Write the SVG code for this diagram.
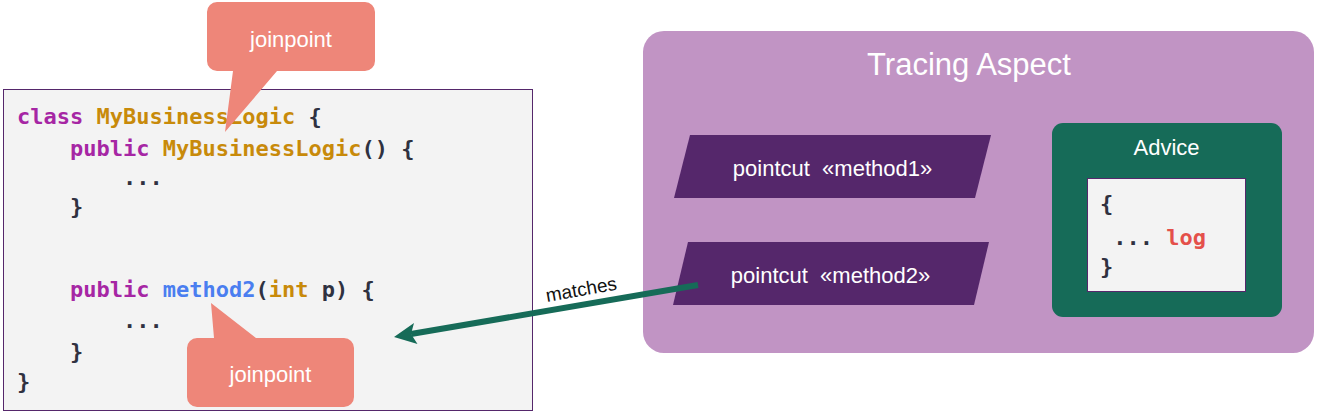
<svg xmlns="http://www.w3.org/2000/svg" width="1317" height="414" viewBox="0 0 1317 414">
  <style>
    .code { font-family: "DejaVu Sans Mono", "Liberation Mono", monospace; font-size: 22px; font-weight: bold; fill: #2f3140; white-space: pre; }
    .kw { fill: #a626a4; }
    .cls { fill: #c88a0a; }
    .fn { fill: #4a7ef0; }
    .red { fill: #e4504a; }
    .lbl { font-family: "Liberation Sans", Arial, sans-serif; fill: #ffffff; }
    .callout { fill: #ee8679; }
    .pc { fill: #55276b; }
  </style>
  <defs/>

  <g id="code-box">
    <rect x="3.5" y="89.5" width="529" height="321" fill="#f3f3f3" stroke="#55276b" stroke-width="1"/>
    <text class="code" x="17" y="124" xml:space="preserve"><tspan class="kw">class</tspan> <tspan class="cls">MyBusinessLogic</tspan> {</text>
    <text class="code" x="70" y="156" xml:space="preserve"><tspan class="kw">public</tspan> <tspan class="cls">MyBusinessLogic</tspan>() {</text>
    <text class="code" x="123" y="185" xml:space="preserve">...</text>
    <text class="code" x="70" y="214" xml:space="preserve">}</text>
    <text class="code" x="70" y="297" xml:space="preserve"><tspan class="kw">public</tspan> <tspan class="fn">method2</tspan>(<tspan class="cls">int</tspan> p) {</text>
    <text class="code" x="123" y="328" xml:space="preserve">...</text>
    <text class="code" x="70" y="359" xml:space="preserve">}</text>
    <text class="code" x="17" y="389" xml:space="preserve">}</text>
  </g>

  <g id="callout-top">
    <path class="callout" d="M217,2 H365 A10,10 0 0 1 375,12 V61 A10,10 0 0 1 365,71 H277 L225,132 L233,71 H217 A10,10 0 0 1 207,61 V12 A10,10 0 0 1 217,2 Z"/>
    <text class="lbl" x="291" y="47" font-size="22" text-anchor="middle">joinpoint</text>
  </g>

  <g id="callout-bottom">
    <path class="callout" d="M197,338 H214 L211,303 L256,338 H344 A10,10 0 0 1 354,348 V397 A10,10 0 0 1 344,407 H197 A10,10 0 0 1 187,397 V348 A10,10 0 0 1 197,338 Z"/>
    <text class="lbl" x="270.5" y="382" font-size="22" text-anchor="middle">joinpoint</text>
  </g>

  <g id="tracing-aspect">
    <rect x="643" y="31" width="671" height="322" rx="21" ry="21" fill="#c194c4"/>
    <text class="lbl" x="969" y="75" font-size="31" text-anchor="middle">Tracing Aspect</text>
  </g>

  <g id="pointcut-method1">
    <polygon class="pc" points="690,135 991,135 975,198 674,198"/>
    <text class="lbl" x="832.5" y="176" font-size="22" text-anchor="middle" xml:space="preserve">pointcut  «method1»</text>
  </g>

  <g id="pointcut-method2">
    <polygon class="pc" points="688,242 989,242 974,305 673,305"/>
    <text class="lbl" x="830.5" y="283" font-size="22" text-anchor="middle" xml:space="preserve">pointcut  «method2»</text>
  </g>

  <g id="advice">
    <rect x="1052" y="123" width="230" height="194" rx="11" ry="11" fill="#166b58"/>
    <text class="lbl" x="1166.5" y="155" font-size="22" text-anchor="middle">Advice</text>
    <rect x="1087.5" y="178.5" width="158" height="113" fill="#f3f3f3" stroke="#55276b" stroke-width="1"/>
    <text class="code" x="1100" y="211" xml:space="preserve">{</text>
    <text class="code" x="1100" y="245" xml:space="preserve"> ... <tspan class="red">log</tspan></text>
    <text class="code" x="1100" y="274" xml:space="preserve">}</text>
  </g>

  <g id="connectors">
    <line x1="698" y1="285" x2="411" y2="334" stroke="#166b58" stroke-width="6"/>
    <polygon points="394,337 414,323 411,334 417.5,344" fill="#166b58"/>
    <text x="547" y="302" transform="rotate(-10 547 302)" font-family="'Liberation Sans', Arial, sans-serif" font-size="19" fill="#111111">matches</text>
  </g>
</svg>
